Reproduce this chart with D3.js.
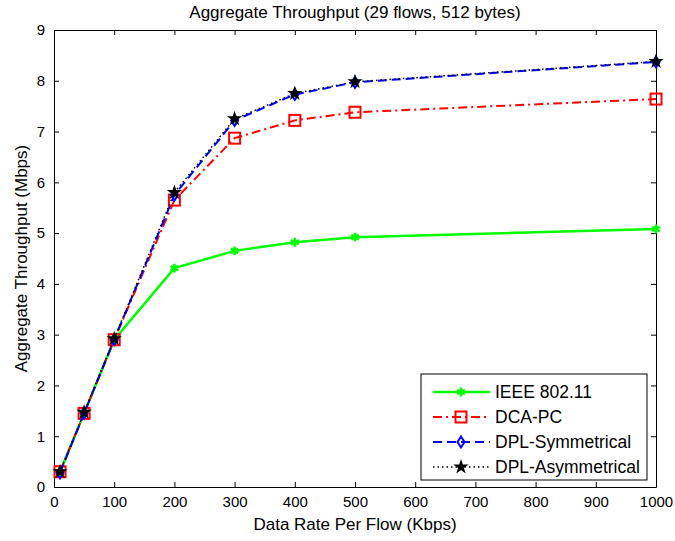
<!DOCTYPE html>
<html lang="en">
<head>
    <meta charset="UTF-8">
    <title>Aggregate Throughput</title>
    <style>
        body, html { margin: 0; background: #fff; }
        svg { display: block; }
        text { font-family: "Liberation Sans", Arial, sans-serif; font-size: 17px; fill: #000; }
    </style>
</head>
<body>
    <script src="https://d3js.org/d3.v7.min.js"></script>
    <script>
        // data
        var rates = [10, 50, 100, 200, 300, 400, 500, 1000];
        var ieee = [0.3, 1.45, 2.9, 4.31, 4.65, 4.82, 4.92, 5.08];
        var dcapc = [0.3, 1.45, 2.9, 5.65, 6.87, 7.22, 7.38, 7.64];
        var dplSym = [0.28, 1.45, 2.9, 5.75, 7.22, 7.73, 7.97, 8.37];
        var dplAsym = [0.3, 1.47, 2.92, 5.8, 7.25, 7.75, 7.98, 8.38];
        var xTicks = [0, 100, 200, 300, 400, 500, 600, 700, 800, 900, 1000];
        var yTicks = [0, 1, 2, 3, 4, 5, 6, 7, 8, 9];

        var width = 675, height = 541;
        var mLeft = 54, mRight = 656, mTop = 30, mBottom = 487;

        var svg = d3.select("body").append("svg")
            .attr("width", width)
            .attr("height", height);

        var x = d3.scaleLinear().domain([0, 1000]).range([mLeft, mRight]);
        var y = d3.scaleLinear().domain([0, 9]).range([mBottom, mTop]);

        // axes with inward ticks on all sides
        svg.append("g").attr("transform", "translate(0," + mBottom + ")")
            .call(d3.axisBottom(x).tickValues(xTicks).tickSizeInner(-5).tickSizeOuter(0).tickPadding(9).tickFormat(d3.format("d")));
        svg.append("g").attr("transform", "translate(0," + mTop + ")")
            .call(d3.axisTop(x).tickValues(xTicks).tickSizeInner(-5).tickSizeOuter(0).tickFormat(""));
        svg.append("g").attr("transform", "translate(" + mLeft + ",0)")
            .call(d3.axisLeft(y).tickValues(yTicks).tickSizeInner(-5).tickSizeOuter(0).tickPadding(9));
        svg.append("g").attr("transform", "translate(" + mRight + ",0)")
            .call(d3.axisRight(y).tickValues(yTicks).tickSizeInner(-5).tickSizeOuter(0).tickFormat(""));
        svg.selectAll(".domain, .tick line").attr("stroke", "#000");
        svg.selectAll(".tick text").style("font-size", "15px").attr("font-family", null);

        svg.append("text").attr("x", (mLeft + mRight) / 2).attr("y", 18)
            .attr("text-anchor", "middle").text("Aggregate Throughput (29 flows, 512 bytes)");
        svg.append("text").attr("x", (mLeft + mRight) / 2).attr("y", 530)
            .attr("text-anchor", "middle").text("Data Rate Per Flow (Kbps)");
        svg.append("text").attr("transform", "translate(27," + (mTop + mBottom) / 2 + ") rotate(-90)")
            .attr("text-anchor", "middle").text("Aggregate Throughput (Mbps)");

        var series = [
            { name: "IEEE 802.11", vals: ieee, color: "#00ff00", dash: null, width: 2.5, marker: "star" },
            { name: "DCA-PC", vals: dcapc, color: "#ff0000", dash: "9,4,2,4", width: 2, marker: "square" },
            { name: "DPL-Symmetrical", vals: dplSym, color: "#0000ff", dash: "9,5", width: 2, marker: "diamond" },
            { name: "DPL-Asymmetrical", vals: dplAsym, color: "#000000", dash: "1.5,3", width: 1.5, marker: "pent" }
        ];

        var line = d3.line().x(function(d) { return x(d[0]); }).y(function(d) { return y(d[1]); });

        function drawMarker(g, kind, color, cx, cy) {
            if (kind === "star") {
                g.append("path").attr("d", d3.symbol().type(d3.symbolAsterisk).size(55)())
                    .attr("transform", "translate(" + cx + "," + cy + ")")
                    .attr("fill", "none").attr("stroke", color).attr("stroke-width", 2.5);
            } else if (kind === "square") {
                g.append("rect").attr("x", cx - 5.5).attr("y", cy - 5.5).attr("width", 11).attr("height", 11)
                    .attr("fill", "none").attr("stroke", color).attr("stroke-width", 2);
            } else if (kind === "diamond") {
                g.append("path").attr("d", "M0,-5.5L3.5,0L0,5.5L-3.5,0Z")
                    .attr("transform", "translate(" + cx + "," + cy + ")")
                    .attr("fill", "none").attr("stroke", color).attr("stroke-width", 2);
            } else {
                g.append("path").attr("d", d3.symbol().type(d3.symbolStar).size(18)())
                    .attr("transform", "translate(" + cx + "," + cy + ")")
                    .attr("fill", "none").attr("stroke", color).attr("stroke-width", 2.5);
            }
        }

        series.forEach(function(s) {
            var pts = rates.map(function(r, i) { return [r, s.vals[i]]; });
            svg.append("path").datum(pts).attr("d", line)
                .attr("fill", "none").attr("stroke", s.color).attr("stroke-width", s.width)
                .attr("stroke-dasharray", s.dash);
            var g = svg.append("g");
            pts.forEach(function(p) { drawMarker(g, s.marker, s.color, x(p[0]), y(p[1])); });
        });

        // legend
        var lg = svg.append("g");
        lg.append("rect").attr("x", 421).attr("y", 374).attr("width", 226).attr("height", 106)
            .attr("fill", "#fff").attr("stroke", "#000").attr("stroke-width", 1);
        series.forEach(function(s, i) {
            var ly = 392 + i * 25;
            lg.append("line").attr("x1", 433).attr("x2", 490).attr("y1", ly).attr("y2", ly)
                .attr("stroke", s.color).attr("stroke-width", s.width).attr("stroke-dasharray", s.dash);
            drawMarker(lg, s.marker, s.color, 461, ly);
            lg.append("text").attr("x", 495).attr("y", ly + 6).style("font-size", "17.5px").text(s.name);
        });
    </script>
</body>
</html>
